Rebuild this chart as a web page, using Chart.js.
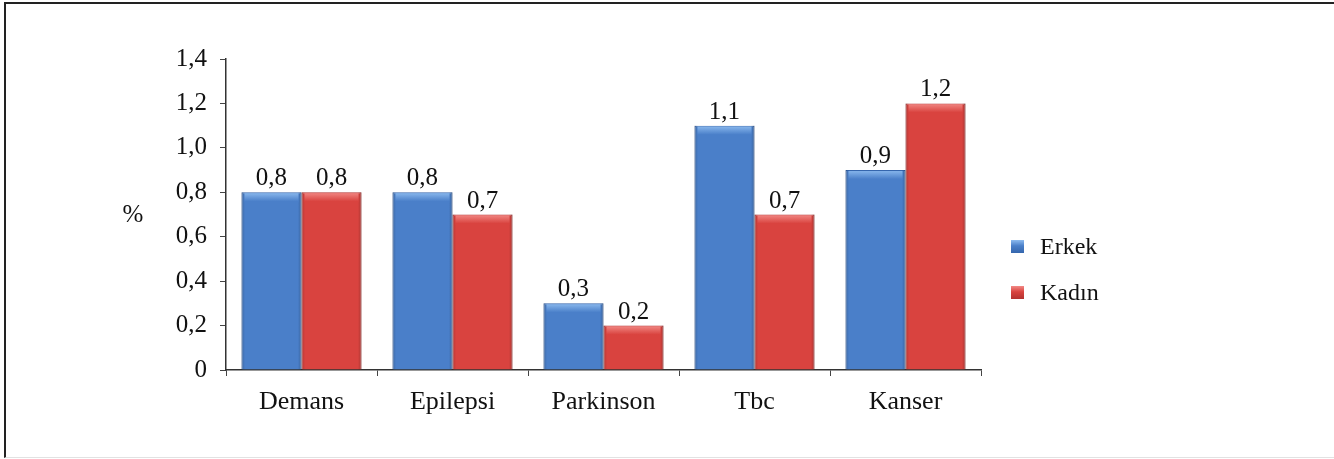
<!DOCTYPE html>
<html>
<head>
<meta charset="utf-8">
<script src="https://cdn.jsdelivr.net/npm/chart.js@4.4.1/dist/chart.umd.min.js"></script>
<style>
  html, body { margin: 0; padding: 0; background: #fff; }
  #wrap { position: relative; width: 1334px; height: 459px; overflow: hidden; }
  #frame { position: absolute; left: 4px; top: 2px; width: 1340px; height: 456px;
           border-left: 2px solid #222; border-top: 2px solid #222; border-bottom: 1px solid #e2e2e2; box-sizing: border-box; }
  #c { position: absolute; left: 0; top: 0; }
  .leg { position: absolute; font-family: "Liberation Serif", "Times New Roman", serif; font-size: 24px; color: #111; line-height: 24px; }
  .sw { position: absolute; width: 13px; height: 13px; }
</style>
</head>
<body>
<div id="wrap">
  <div id="frame"></div>
  <canvas id="c" width="1334" height="459"></canvas>
  <div id="legend"></div>
</div>
<script>
const categories = ["Demans", "Epilepsi", "Parkinson", "Tbc", "Kanser"];
const seriesNames = ["Erkek", "Kadın"];
const erkekValues = [0.8, 0.8, 0.3, 1.1, 0.9];
const kadinValues = [0.8, 0.7, 0.2, 0.7, 1.2];
const yTicks = [0, 0.2, 0.4, 0.6, 0.8, 1.0, 1.2, 1.4];
const yAxisTitle = "%";

const FONT = '"Liberation Serif", "Times New Roman", serif';
const fmt = v => v === 0 ? "0" : v.toFixed(1).replace(".", ",");

const palette = [
  { main: "#4a7fc9", dark: "#3566ad", light: "#8dbbef" },
  { main: "#d9433f", dark: "#b33230", light: "#f28a86" }
];

const bevelPlugin = {
  id: "bevel",
  afterDatasetsDraw(chart) {
    const ctx = chart.ctx;
    chart.data.datasets.forEach((ds, di) => {
      const meta = chart.getDatasetMeta(di);
      const p = palette[di];
      meta.data.forEach(bar => {
        const left = bar.x - bar.width / 2, right = bar.x + bar.width / 2;
        const top = bar.y, bottom = bar.base;
        ctx.save();
        const g = ctx.createLinearGradient(left, 0, right, 0);
        g.addColorStop(0, "rgba(0,0,0,0.18)");
        g.addColorStop(0.06, "rgba(0,0,0,0.0)");
        g.addColorStop(0.94, "rgba(0,0,0,0.0)");
        g.addColorStop(1, "rgba(0,0,0,0.22)");
        ctx.fillStyle = g;
        ctx.fillRect(left, top, right - left, bottom - top);
        const h = Math.min(9, bottom - top);
        const g2 = ctx.createLinearGradient(0, top, 0, top + h);
        g2.addColorStop(0, p.light);
        g2.addColorStop(1, p.main);
        ctx.fillStyle = g2;
        ctx.fillRect(left + 3, top + 1, right - left - 6, h);
        ctx.restore();
      });
    });
  }
};

const labelPlugin = {
  id: "valueLabels",
  afterDatasetsDraw(chart) {
    const ctx = chart.ctx;
    ctx.save();
    ctx.font = "25px " + FONT;
    ctx.fillStyle = "#111";
    ctx.textAlign = "center";
    ctx.textBaseline = "alphabetic";
    chart.data.datasets.forEach((ds, di) => {
      const meta = chart.getDatasetMeta(di);
      meta.data.forEach((bar, i) => {
        ctx.fillText(fmt(ds.data[i]), bar.x, bar.y - 7);
      });
    });
    const ys = chart.scales.y;
    ctx.fillText(yAxisTitle, 133, (ys.top + ys.bottom) / 2 + 7);
    ctx.restore();
  }
};

const chart = new Chart(document.getElementById("c"), {
  type: "bar",
  data: {
    labels: categories,
    datasets: [
      { label: seriesNames[0], data: erkekValues, backgroundColor: palette[0].main, borderColor: palette[0].dark, borderWidth: 1 },
      { label: seriesNames[1], data: kadinValues, backgroundColor: palette[1].main, borderColor: palette[1].dark, borderWidth: 1 }
    ]
  },
  options: {
    responsive: false,
    animation: false,
    devicePixelRatio: 1,
    layout: { padding: { left: 0, top: 59, right: 353, bottom: 29 } },
    datasets: { bar: { categoryPercentage: 0.795, barPercentage: 1.0 } },
    plugins: { legend: { display: false }, tooltip: { enabled: false } },
    scales: {
      x: {
        afterFit(s) { s.height = 60; },
        grid: { display: true, drawOnChartArea: false, drawTicks: true, tickLength: 6, color: "#444", offset: true },
        border: { display: true, color: "#333", width: 1.5 },
        ticks: { color: "#111", font: { family: FONT, size: 26 }, padding: 11 }
      },
      y: {
        min: 0, max: 1.4,
        afterFit(s) { s.width = 226; },
        afterBuildTicks(s) { s.ticks = yTicks.map(v => ({ value: v })); },
        grid: { display: true, drawOnChartArea: false, drawTicks: true, tickLength: 6, color: "#444" },
        border: { display: true, color: "#333", width: 1.5 },
        ticks: { color: "#111", font: { family: FONT, size: 25 }, padding: 13, callback: v => fmt(v) }
      }
    }
  },
  plugins: [bevelPlugin, labelPlugin]
});

const legend = document.getElementById("legend");
const legTop = [240, 286];
chart.data.datasets.forEach((ds, i) => {
  const sw = document.createElement("div");
  sw.className = "sw";
  sw.style.left = "1011px";
  sw.style.top = legTop[i] + "px";
  sw.style.background = `linear-gradient(${palette[i].light}, ${palette[i].main} 45%, ${palette[i].dark})`;
  legend.appendChild(sw);
  const t = document.createElement("div");
  t.className = "leg";
  t.style.left = "1040px";
  t.style.top = (legTop[i] - 6) + "px";
  t.textContent = ds.label;
  legend.appendChild(t);
});
</script>
</body>
</html>
